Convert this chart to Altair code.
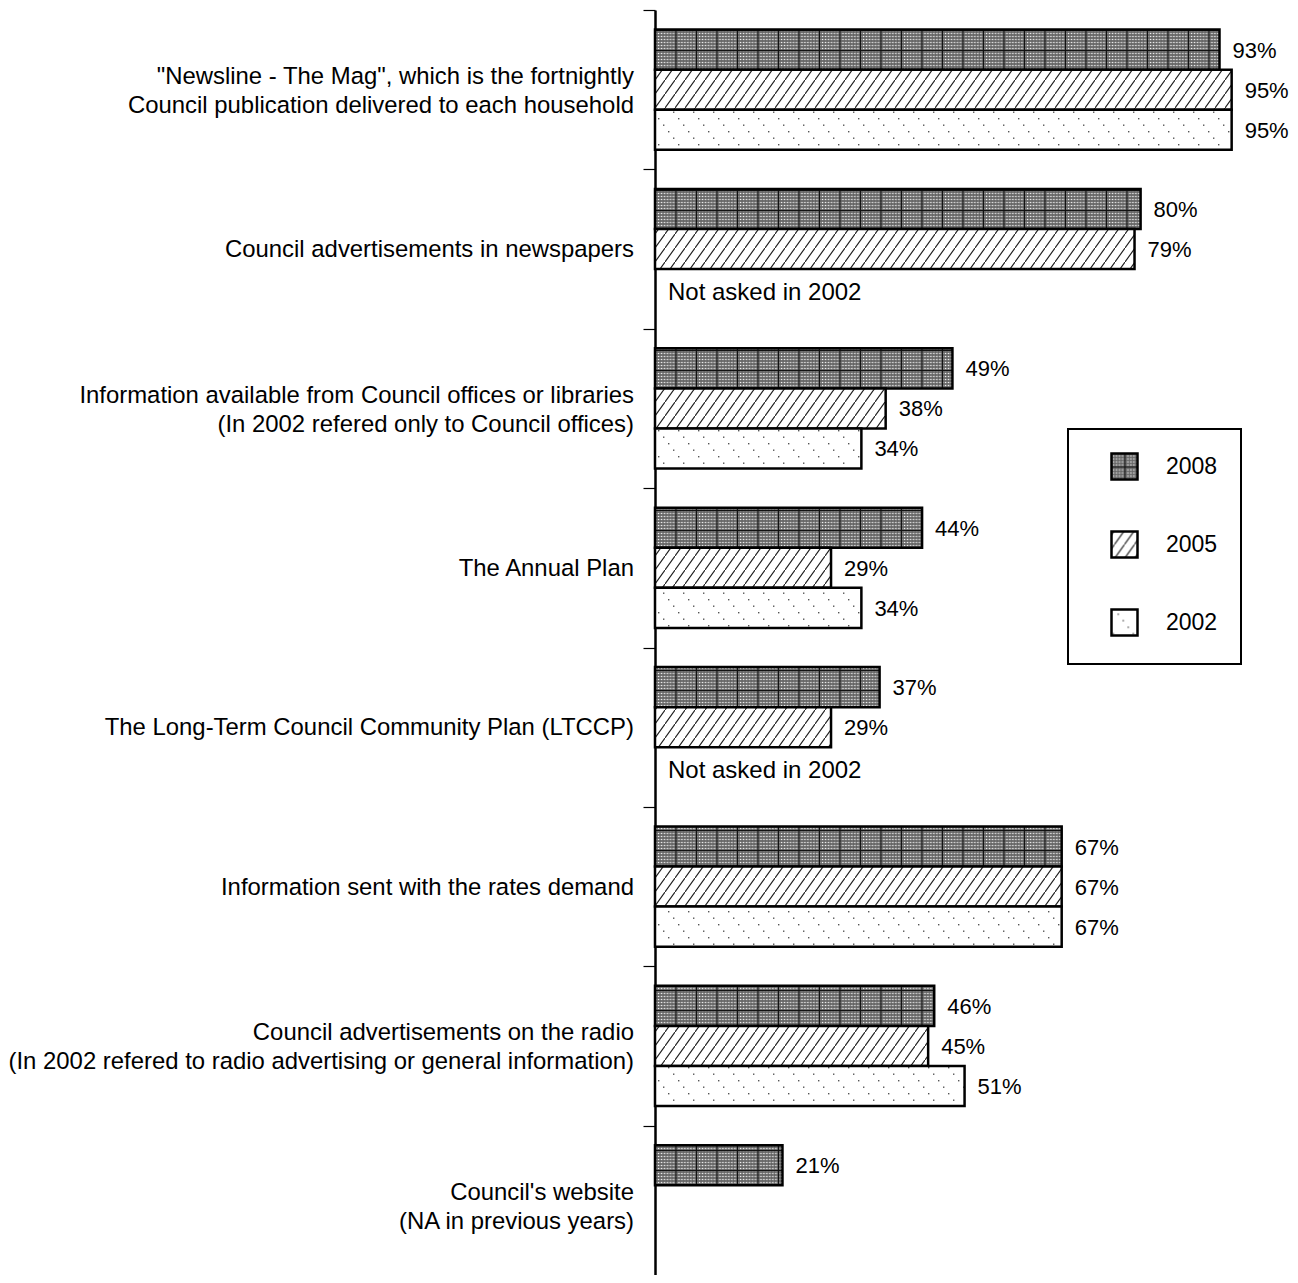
import altair as alt
import pandas as pd
import jinja2

# ---------------- data ----------------
categories = [
    '"Newsline - The Mag", which is the fortnightly|Council publication delivered to each household',
    "Council advertisements in newspapers",
    "Information available from Council offices or libraries|(In 2002 refered only to Council offices)",
    "The Annual Plan",
    "The Long-Term Council Community Plan (LTCCP)",
    "Information sent with the rates demand",
    "Council advertisements on the radio|(In 2002 refered to radio advertising or general information)",
    "Council's website|(NA in previous years)",
]
years = ["2008", "2005", "2002"]
values_2008 = [93, 80, 49, 44, 37, 67, 46, 21]
values_2005 = [95, 79, 38, 29, 29, 67, 45, None]
values_2002 = [95, None, 34, 34, None, 67, 51, None]
not_asked_note = "Not asked in 2002"
not_asked_categories = [categories[1], categories[4]]

rows = []
for year, vals in zip(years, [values_2008, values_2005, values_2002]):
    for cat, v in zip(categories, vals):
        if v is not None:
            rows.append({"category": cat, "year": year, "value": v, "label": f"{v}%"})
df = pd.DataFrame(rows)
note_df = pd.DataFrame({"category": not_asked_categories,
                        "year": ["2002"] * len(not_asked_categories),
                        "value": [0] * len(not_asked_categories),
                        "note": [not_asked_note] * len(not_asked_categories)})
cat_df = pd.DataFrame({"category": categories,
                       "lines": [c.split("|") for c in categories],
                       "nlines": [len(c.split("|")) for c in categories]})

FONT = "Liberation Sans"
fills = ["url(#p2008)", "url(#p2005)", "url(#p2002)"]

y_enc = alt.Y("category:N", sort=categories, title=None,
              scale=alt.Scale(paddingInner=0, paddingOuter=0),
              axis=alt.Axis(labels=False, tickSize=12, tickWidth=1.2,
                            tickColor="black", tickBand="extent", domainColor="black",
                            domainWidth=2.5))
yoff_enc = alt.YOffset("year:N", sort=years,
                       scale=alt.Scale(domain=years, paddingInner=0, paddingOuter=0.49))
x_enc = alt.X("value:Q", scale=alt.Scale(domain=[0, 100]), axis=None)

bars = alt.Chart(df).mark_bar(stroke="black", strokeWidth=2.5).encode(
    y=y_enc, yOffset=yoff_enc, x=x_enc,
    fill=alt.Fill("year:N", sort=years,
                  scale=alt.Scale(domain=years, range=fills),
                  legend=alt.Legend(title=None, orient="none", legendX=413, legendY=419,
                                    symbolType="square", symbolSize=676,
                                    symbolStrokeColor="black", symbolStrokeWidth=2.5,
                                    symbolOffset=19, labelOffset=27, labelFontSize=23,
                                    labelFont=FONT, labelColor="black", rowPadding=41,
                                    padding=23, strokeColor="black")),
)

pct = alt.Chart(df).mark_text(align="left", baseline="middle", dx=13, dy=1, fontSize=22,
                              font=FONT, color="black").encode(
    y=y_enc, yOffset=yoff_enc, x=x_enc, text="label:N")

notes = alt.Chart(note_df).mark_text(align="left", baseline="middle", dx=13, dy=4, fontSize=24,
                                     font=FONT, color="black").encode(
    y=y_enc, yOffset=yoff_enc, x=x_enc, text="note:N")

cat_one = alt.Chart(cat_df).transform_filter("datum.nlines == 1").mark_text(
    align="right", baseline="middle", fontSize=23.9, font=FONT, color="black", dy=1).encode(
    y=y_enc, x=alt.value(-21), text="lines")

cat_two = alt.Chart(cat_df).transform_filter("datum.nlines == 2").mark_text(
    align="right", baseline="middle", fontSize=23.9, font=FONT, color="black",
    lineHeight=29, dy=-12.5).encode(
    y=y_enc, x=alt.value(-21), text="lines")

chart = alt.layer(bars, pct, notes, cat_one, cat_two).properties(
    width=607, height=1275,
    autosize=alt.AutoSizeParams(type="none"),
    padding={"left": 647, "top": 2, "right": 28, "bottom": -10},
    background="white",
).configure_view(stroke=None).configure_legend(strokeWidth=2)

PATTERN_DEFS = """
<svg width="0" height="0" style="position:absolute;width:0;height:0;overflow:hidden" aria-hidden="true">
 <defs>
  <pattern id="dither8" patternUnits="userSpaceOnUse" width="3" height="3">
   <rect width="3" height="3" fill="#777777"/>
   <rect x="0" y="0" width="1" height="1" fill="#ffffff"/>
   <rect x="1.5" y="1.5" width="1" height="1" fill="#3a3a3a"/>
  </pattern>
  <pattern id="p2008" patternUnits="userSpaceOnUse" width="20.5" height="20">
   <rect width="20.5" height="20" fill="url(#dither8)"/>
   <rect x="0" y="0" width="20.5" height="1" fill="#111"/>
   <rect x="0" y="0" width="1" height="20" fill="#111"/>
  </pattern>
  <pattern id="p2005" patternUnits="userSpaceOnUse" width="10" height="14">
   <rect width="10" height="14" fill="#ffffff"/>
   <path d="M-1,15.4 L11,-1.4" stroke="#1a1a1a" stroke-width="1.1" fill="none"/>
  </pattern>
  <pattern id="p2002" patternUnits="userSpaceOnUse" width="20" height="26">
   <rect width="20" height="26" fill="#ffffff"/>
   <rect x="3" y="4" width="1.4" height="1.4" fill="#555"/>
   <rect x="8" y="10.5" width="1.4" height="1.4" fill="#555"/>
   <rect x="13" y="17" width="1.4" height="1.4" fill="#555"/>
   <rect x="18" y="23.5" width="1.4" height="1.4" fill="#555"/>
  </pattern>
 </defs>
</svg>
"""

try:
    from altair.utils.html import TEMPLATES as _TEMPLATES
    _BASE = _TEMPLATES["standard"]

    class _PatternPage(jinja2.Template):
        def render(self, *args, **kwargs):
            html = _BASE.render(*args, **kwargs)
            if "<body>" in html:
                return html.replace("<body>", "<body>" + PATTERN_DEFS, 1)
            return PATTERN_DEFS + html

    _template = _PatternPage("")
except Exception:
    _template = None

if _template is not None:
    chart.save("out.html", embed_options={"renderer": "svg", "actions": False}, template=_template)
else:
    chart.save("out.html", embed_options={"renderer": "svg", "actions": False})
